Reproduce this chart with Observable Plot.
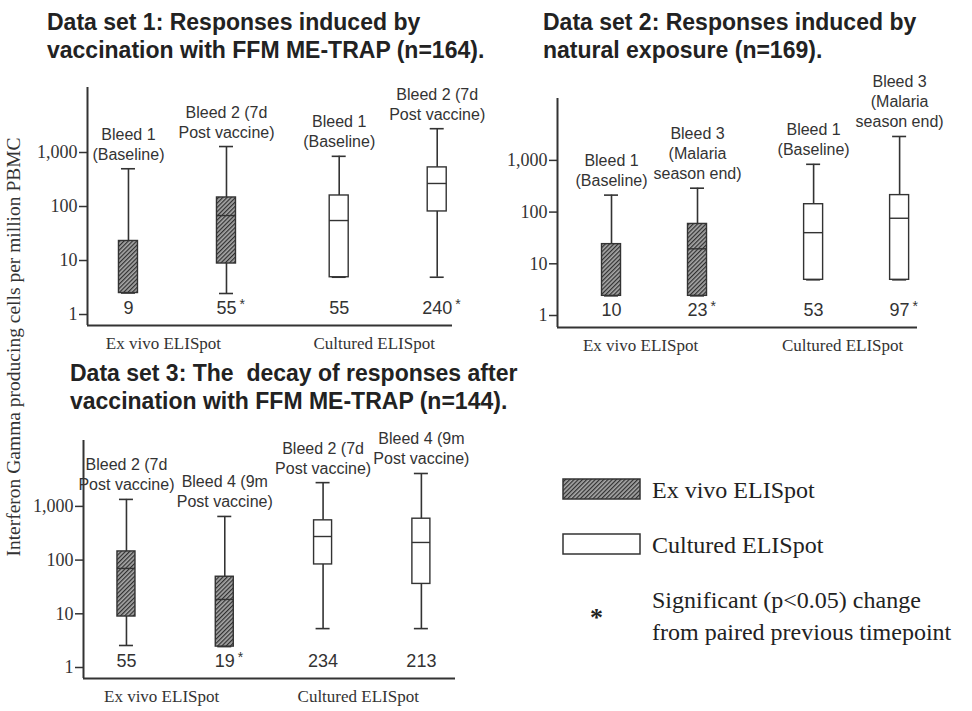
<!DOCTYPE html>
<html>
<head>
<meta charset="utf-8">
<script src="https://cdn.jsdelivr.net/npm/d3@7"></script>
<script src="https://cdn.jsdelivr.net/npm/@observablehq/plot@0.6"></script>
<style>
  body { margin: 0; background: #fff; }
  #page { position: relative; width: 972px; height: 711px; overflow: hidden; background: #fff; }
  .title { position: absolute; font-family: "Liberation Sans", Arial, sans-serif; font-weight: bold;
           font-size: 23px; line-height: 28px; color: #222; white-space: nowrap; }
  .panel { position: absolute; }
  .panel svg { overflow: visible; }
  #ylab { position: absolute; left: 14px; top: 347px; font-family: "Liberation Serif", "Times New Roman", serif;
          font-size: 19.5px; white-space: nowrap; color: #333; transform: translate(-50%, -50%) rotate(-90deg); }
  .leg { position: absolute; font-family: "Liberation Serif", "Times New Roman", serif; font-size: 24px; color: #222; white-space: nowrap; }
</style>
</head>
<body>
<svg width="0" height="0" style="position:absolute">
  <defs>
    <pattern id="hatch" patternUnits="userSpaceOnUse" width="3" height="3" patternTransform="rotate(45)">
      <rect width="3" height="3" fill="#a8a8a8"></rect>
      <line x1="0.6" y1="0" x2="0.6" y2="3" stroke="#303030" stroke-width="1.3"></line>
    </pattern>
  </defs>
</svg>
<div id="page">
  <div class="title" style="left:47px; top:8px;">Data set 1: Responses induced by<br>vaccination with FFM ME-TRAP (n=164).</div>
  <div class="title" style="left:543px; top:8px;">Data set 2: Responses induced by<br>natural exposure (n=169).</div>
  <div class="title" style="left:70px; top:359px;">Data set 3: The&nbsp; decay of responses after<br>vaccination with FFM ME-TRAP (n=144).</div>
  <div id="ylab">Interferon Gamma producing cells per million PBMC</div>
  <div id="p1" class="panel" style="left:0px; top:80px;"></div>
  <div id="p2" class="panel" style="left:470px; top:90px;"></div>
  <div id="p3" class="panel" style="left:0px; top:430px;"></div>
  <div id="legend"></div>
</div>
<script>
// ---------- data ----------
const assayGroups = ["Ex vivo ELISpot", "Cultured ELISpot"];
const yTickValues = [1, 10, 100, 1000];

// Data set 1
const p1Bleed = ["Bleed 1\n(Baseline)", "Bleed 2 (7d\nPost vaccine)", "Bleed 1\n(Baseline)", "Bleed 2 (7d\nPost vaccine)"];
const p1Assay = ["Ex vivo ELISpot", "Ex vivo ELISpot", "Cultured ELISpot", "Cultured ELISpot"];
const p1Low = [2.5, 2.45, 4.9, 4.9];
const p1Q1 = [2.5, 8.8, 4.9, 81];
const p1Median = [null, 68, 55, 267];
const p1Q3 = [23, 147, 160, 530];
const p1High = [500, 1290, 850, 2760];
const p1MedianLabel = ["9", "55", "55", "240"];
const p1Significant = [false, true, false, true];

// Data set 2
const p2Bleed = ["Bleed 1\n(Baseline)", "Bleed 3\n(Malaria\nseason end)", "Bleed 1\n(Baseline)", "Bleed 3\n(Malaria\nseason end)"];
const p2Assay = ["Ex vivo ELISpot", "Ex vivo ELISpot", "Cultured ELISpot", "Cultured ELISpot"];
const p2Low = [2.4, 2.4, 4.9, 4.9];
const p2Q1 = [2.4, 2.4, 4.9, 4.9];
const p2Median = [null, 19.5, 40, 76];
const p2Q3 = [24, 59, 142, 213];
const p2High = [213, 290, 840, 2900];
const p2MedianLabel = ["10", "23", "53", "97"];
const p2Significant = [false, true, false, true];

// Data set 3
const p3Bleed = ["Bleed 2 (7d\nPost vaccine)", "Bleed 4 (9m\nPost vaccine)", "Bleed 2 (7d\nPost vaccine)", "Bleed 4 (9m\nPost vaccine)"];
const p3Assay = ["Ex vivo ELISpot", "Ex vivo ELISpot", "Cultured ELISpot", "Cultured ELISpot"];
const p3Low = [2.57, 2.45, 5.3, 5.3];
const p3Q1 = [8.9, 2.45, 83, 36];
const p3Median = [70, 18.5, 275, 213];
const p3Q3 = [145, 49, 550, 590];
const p3High = [1350, 650, 2770, 4100];
const p3MedianLabel = ["55", "19", "234", "213"];
const p3Significant = [false, true, false, false];

// ---------- drawing ----------
const sans = "'Liberation Sans', Arial, sans-serif";
const serif = "'Liberation Serif', 'Times New Roman', serif";
const ink = "#333";
const labelSize = 18;

function panel(d, L) {
  const idx = d.assay.map((_, i) => i);
  const u = i => i + L.gap * assayGroups.indexOf(d.assay[i]);
  const hw = L.boxPx / 2 / L.step;
  const cw = L.capPx / 2 / L.step;
  const yMin = L.yDomain[0];
  const groupPos = assayGroups.map(g => {
    const ii = idx.filter(i => d.assay[i] === g);
    return {g, x: d3.mean(ii, u)};
  });
  const exv = idx.filter(i => d.assay[i] === assayGroups[0]);
  const cul = idx.filter(i => d.assay[i] === assayGroups[1]);
  // one asterisk mark per significant box, offset by the width of its number
  const starMarks = idx.filter(i => d.sig[i]).map(i =>
    Plot.text([i], {x: u, y: yMin, text: () => "*", textAnchor: "start",
                    dx: d.medianLabel[i].length * labelSize * 0.278 + 3, dy: -21,
                    fontSize: 14, fontFamily: sans, fill: ink}));
  return Plot.plot({
    width: L.width, height: L.height,
    marginLeft: L.ml, marginRight: L.mr, marginTop: L.mt, marginBottom: L.mb,
    x: {domain: L.xDomain, axis: null},
    y: {type: "log", domain: L.yDomain, axis: null},
    style: {overflow: "visible", background: "transparent", color: ink},
    marks: [
      Plot.axisY({ticks: yTickValues, tickFormat: d3.format(","), tickSize: 8, tickPadding: 2,
                  fontSize: 18, fontFamily: serif, strokeWidth: 1.5, label: null}),
      Plot.ruleX([L.xDomain[0]], {stroke: ink, strokeWidth: 2}),
      Plot.ruleY([yMin], {stroke: ink, strokeWidth: 2}),
      Plot.ruleX(idx, {x: u, y1: i => d.low[i], y2: i => d.high[i], stroke: ink, strokeWidth: 1.6}),
      Plot.ruleY(idx, {y: i => d.high[i], x1: i => u(i) - cw, x2: i => u(i) + cw, stroke: ink, strokeWidth: 1.6}),
      Plot.ruleY(idx, {y: i => d.low[i], x1: i => u(i) - cw, x2: i => u(i) + cw, stroke: ink, strokeWidth: 1.6}),
      Plot.rect(exv, {x1: i => u(i) - hw, x2: i => u(i) + hw, y1: i => d.q1[i], y2: i => d.q3[i],
                      fill: "url(#hatch)", stroke: ink, strokeWidth: 1.4}),
      Plot.rect(cul, {x1: i => u(i) - hw, x2: i => u(i) + hw, y1: i => d.q1[i], y2: i => d.q3[i],
                      fill: "#fff", stroke: ink, strokeWidth: 1.4}),
      Plot.ruleY(idx.filter(i => d.median[i] != null), {y: i => d.median[i], x1: i => u(i) - hw, x2: i => u(i) + hw,
                      stroke: ink, strokeWidth: 1.4}),
      Plot.text(idx, {x: u, y: i => d.high[i], text: i => d.bleed[i], lineAnchor: "bottom", dy: -9,
                      fontSize: 16, lineHeight: 1.25, fontFamily: sans, fill: ink}),
      Plot.text(idx, {x: u, y: yMin, text: i => d.medianLabel[i], dy: -17,
                      fontSize: labelSize, fontFamily: sans, fill: ink}),
      ...starMarks,
      Plot.text(groupPos, {x: "x", y: yMin, text: "g", dy: 18, dx: -14,
                      fontSize: 17, fontFamily: serif, fill: ink})
    ]
  });
}

const layouts = {
  p1: {width: 470, height: 275, ml: 87, mr: 18, mt: 7, mb: 30, step: 98, gap: 0.15,
       xDomain: [-0.418, 3.306], yDomain: [0.626, 15990], boxPx: 19, capPx: 14},
  p2: {width: 465, height: 267, ml: 87, mr: 18, mt: 8, mb: 30, step: 86, gap: 0.35,
       xDomain: [-0.628, 3.558], yDomain: [0.586, 15740], boxPx: 19, capPx: 14},
  p3: {width: 473, height: 280, ml: 83, mr: 18, mt: 10, mb: 32, step: 98.3, gap: 0,
       xDomain: [-0.437, 3.347], yDomain: [0.624, 16870], boxPx: 18, capPx: 14}
};

const sets = {
  p1: {bleed: p1Bleed, assay: p1Assay, low: p1Low, q1: p1Q1, median: p1Median, q3: p1Q3, high: p1High, medianLabel: p1MedianLabel, sig: p1Significant},
  p2: {bleed: p2Bleed, assay: p2Assay, low: p2Low, q1: p2Q1, median: p2Median, q3: p2Q3, high: p2High, medianLabel: p2MedianLabel, sig: p2Significant},
  p3: {bleed: p3Bleed, assay: p3Assay, low: p3Low, q1: p3Q1, median: p3Median, q3: p3Q3, high: p3High, medianLabel: p3MedianLabel, sig: p3Significant}
};

for (const k of ["p1", "p2", "p3"]) {
  document.getElementById(k).appendChild(panel(sets[k], layouts[k]));
}

// legend
const legendItems = [
  {label: "Ex vivo ELISpot", fill: "url(#hatch)"},
  {label: "Cultured ELISpot", fill: "#fff"}
];
const legend = document.getElementById("legend");
legendItems.forEach((it, i) => {
  const top = 479 + i * 55;
  const sw = document.createElementNS("http://www.w3.org/2000/svg", "svg");
  sw.setAttribute("width", 80); sw.setAttribute("height", 24);
  sw.style.position = "absolute"; sw.style.left = "562px"; sw.style.top = (top - 1) + "px";
  sw.innerHTML = `<rect x="1" y="1" width="77" height="20" fill="${it.fill}" stroke="#333" stroke-width="1.5"></rect>`;
  legend.appendChild(sw);
  const tx = document.createElement("div");
  tx.className = "leg"; tx.textContent = it.label;
  tx.style.left = "652px"; tx.style.top = (top - 3) + "px"; tx.style.lineHeight = "28px";
  legend.appendChild(tx);
});
const star = document.createElement("div");
star.className = "leg"; star.textContent = "*";
star.style.left = "590px"; star.style.top = "602px"; star.style.fontSize = "26px"; star.style.lineHeight = "32px";
star.style.fontWeight = "bold";
legend.appendChild(star);
const sigText = document.createElement("div");
sigText.className = "leg";
sigText.innerHTML = "Significant (p&lt;0.05) change<br>from paired previous timepoint";
sigText.style.left = "652px"; sigText.style.top = "584px"; sigText.style.lineHeight = "32px";
legend.appendChild(sigText);
</script>
</body>
</html>
